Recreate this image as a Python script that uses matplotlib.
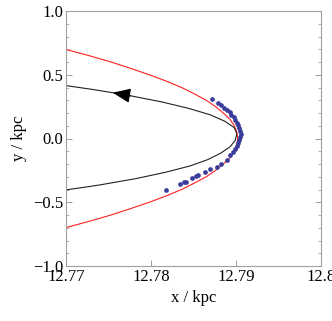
import numpy as np
import matplotlib
matplotlib.use("Agg")
import matplotlib.pyplot as plt
from matplotlib.ticker import MultipleLocator

plt.rcParams['font.family'] = ['Liberation Serif', 'DejaVu Serif']

# red curve
red_y = [-0.72, -0.70, -0.65, -0.60, -0.55, -0.50, -0.45, -0.40, -0.35, -0.30, -0.25, -0.20, -0.15, -0.10, -0.05,
         0.0, 0.05, 0.10, 0.15, 0.20, 0.25, 0.30, 0.35, 0.40, 0.45, 0.50, 0.55, 0.60, 0.65, 0.70, 0.72]
red_x = [12.7687, 12.7699, 12.7727, 12.7753, 12.7776, 12.7798, 12.7818, 12.7836, 12.7851, 12.7865, 12.7876,
         12.7885, 12.7893, 12.7898, 12.7901, 12.7902, 12.7901, 12.7898, 12.7893, 12.7885, 12.7876, 12.7865,
         12.7851, 12.7836, 12.7818, 12.7798, 12.7776, 12.7753, 12.7727, 12.7699, 12.7687]

# black orbit, ordered in the direction of motion
orb_x = [12.7688, 12.7739, 12.7782, 12.7817, 12.7846, 12.7867, 12.7882, 12.7893, 12.7899, 12.7901,
         12.7898, 12.7887, 12.7870, 12.7845, 12.7814, 12.7776, 12.7755, 12.7731, 12.7679]
orb_y = [-0.415, -0.365, -0.315, -0.265, -0.215, -0.165, -0.115, -0.065, -0.015, 0.035,
         0.085, 0.135, 0.185, 0.235, 0.285, 0.335, 0.359, 0.385, 0.435]
arrow_idx = 16

# particles
pts_x = [12.78721, 12.78792, 12.78824, 12.78859, 12.78894, 12.78924, 12.78947, 12.78971, 12.78994,
         12.79012, 12.79029, 12.79041, 12.79049, 12.79053, 12.79049, 12.79041, 12.79029, 12.79012,
         12.78988, 12.78968, 12.78929, 12.78890, 12.78824, 12.78773, 12.78694, 12.78635, 12.78553,
         12.78529, 12.78486, 12.78408, 12.78388, 12.78341, 12.78173]
pts_y = [0.310, 0.276, 0.263, 0.243, 0.224, 0.204, 0.184, 0.165, 0.145,
         0.125, 0.106, 0.082, 0.059, 0.035, 0.012, -0.012, -0.035, -0.059,
         -0.082, -0.106, -0.133, -0.169, -0.200, -0.226, -0.243, -0.260, -0.286,
         -0.296, -0.310, -0.339, -0.341, -0.357, -0.406]

fig = plt.figure(figsize=(3.32, 3.21), dpi=100)
ax = fig.add_axes([66 / 332, 55 / 321, 255 / 332, 255 / 321])

ax.plot(red_x, red_y, color='#ff2020', lw=0.8)
ax.plot(orb_x, orb_y, color='#222222', lw=0.8)
ax.plot(pts_x, pts_y, 'o', color='#3a3c9c', ms=3.4, mec='none')
ax.annotate('', xy=(orb_x[arrow_idx], orb_y[arrow_idx]),
            xytext=(orb_x[arrow_idx - 1], orb_y[arrow_idx - 1]),
            arrowprops=dict(arrowstyle='-|>,head_length=1.1,head_width=0.45',
                            color='black', lw=0.8, shrinkA=0, shrinkB=0))

ax.set_xlim(12.77, 12.80)
ax.set_ylim(-1.0, 1.0)
ax.set_xticks([12.77, 12.78, 12.79, 12.80])
ax.set_xticklabels(['12.77', '12.78', '12.79', '12.8'])
ax.set_yticks([-1.0, -0.5, 0.0, 0.5, 1.0])
ax.set_yticklabels(['\u22121.0', '\u22120.5', '0.0', '0.5', '1.0'])
ax.yaxis.set_minor_locator(MultipleLocator(0.1))

for s in ax.spines.values():
    s.set_color('#a0a0a0')
    s.set_linewidth(0.8)
ax.tick_params(axis='both', which='both', direction='in', color='#909090',
               labelsize=12, pad=2)
ax.tick_params(axis='y', which='both', left=True, right=True)
ax.tick_params(axis='x', which='both', top=False)
ax.tick_params(which='major', length=4, width=0.6)
ax.tick_params(which='minor', length=2.5, width=0.5)

ax.set_xlabel('x / kpc', fontsize=12, labelpad=4)
ax.set_ylabel('y / kpc', fontsize=12, labelpad=4)

fig.savefig('out.png', dpi=100)
